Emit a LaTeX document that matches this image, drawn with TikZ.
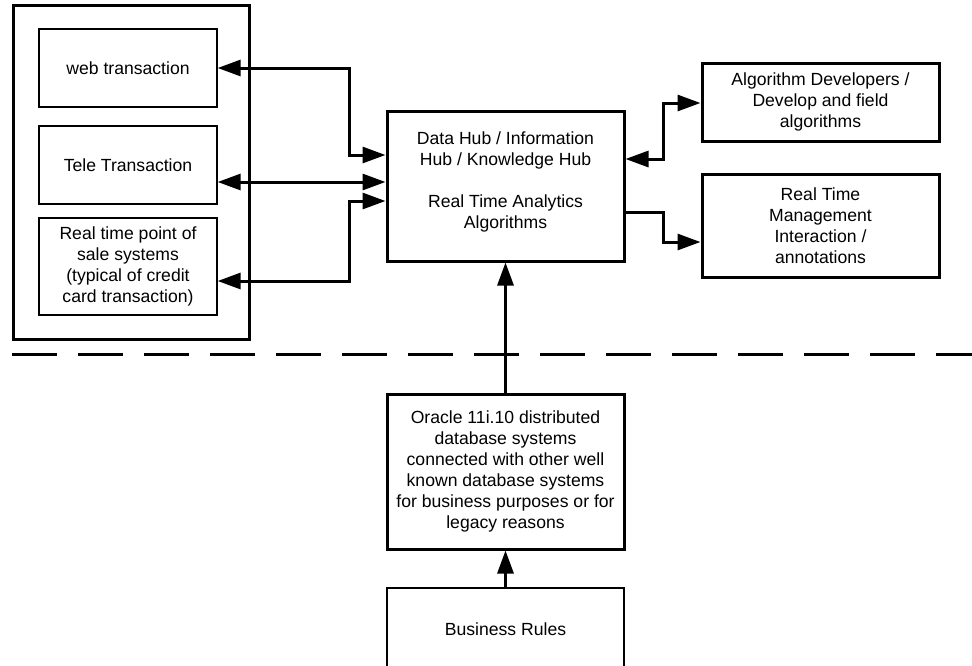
\documentclass[tikz,border=0pt]{standalone}
\usepackage{fontspec}
\setmainfont{Liberation Sans}
\usetikzlibrary{arrows.meta}
\begin{document}
\begin{tikzpicture}[x=1pt,y=-1pt,
  txt/.style={inner sep=0pt, align=center, font=\fontsize{17.6}{21}\selectfont},
  thinbox/.style={txt, draw, line width=1.3pt},
  thickbox/.style={txt, draw, line width=3pt},
  conn/.style={line width=3pt, line join=miter},
  onetip/.style={conn, -{Triangle[length=23pt,width=16pt]}},
  twotip/.style={conn, {Triangle[length=23pt,width=16pt]}-{Triangle[length=23pt,width=16pt]}}]
\useasboundingbox (0,0) rectangle (972,665);

% left group
\node[thickbox, minimum width=236pt, minimum height=334pt] (outer) at (131,172) {};
\node[thinbox, minimum width=178pt, minimum height=78pt] (web) at (128,68) {web transaction};
\node[thinbox, minimum width=178pt, minimum height=78pt] (tele) at (128,165) {Tele Transaction};
\node[thinbox, minimum width=178pt, minimum height=97pt] (pos) at (128,266.5)
  {Real time point of\\sale systems\\(typical of credit\\card transaction)};

% hub
\node[thickbox, minimum width=237pt, minimum height=150pt] (hub) at (505.5,186) {};
\node[txt] (hubtext) at (505.5,182)
  {Data Hub / Information\\Hub / Knowledge Hub\\[21pt]Real Time Analytics\\Algorithms};

% right boxes
\node[thickbox, minimum width=237pt, minimum height=78pt] (algo) at (820.5,102)
  {Algorithm Developers /\\Develop and field\\algorithms};
\node[thickbox, minimum width=237pt, minimum height=103pt] (rtm) at (820.5,225.5)
  {Real Time\\Management\\Interaction /\\annotations};

% bottom
\node[thickbox, minimum width=237pt, minimum height=155pt] (oracle) at (505.5,471.5)
  {Oracle 11i.10 distributed\\database systems\\connected with other well\\known database systems\\for business purposes or for\\legacy reasons};
\node[thinbox, minimum width=237pt, minimum height=86pt] (br) at (505.5,631)
  {\raisebox{4pt}{Business Rules}};

% helper coordinates
\coordinate (y155) at (0,155);
\coordinate (y182) at (0,182);
\coordinate (y201) at (0,201);
\coordinate (y281) at (0,281);
\coordinate (y159) at (0,159);
\coordinate (y212) at (0,212);
\coordinate (y103) at (0,103);
\coordinate (y242) at (0,242);
\coordinate (bendL1) at (349,68);
\coordinate (bendL3) at (349,281);
\coordinate (bendR1) at (663,159);
\coordinate (bendR2) at (663,212);

% connectors
\draw[twotip] (web.east) -- (bendL1) |- (hub.west |- y155);
\draw[twotip] (tele.east |- y182) -- (hub.west |- y182);
\draw[twotip] (pos.east |- y281) -- (bendL3) |- (hub.west |- y201);
\draw[twotip] (hub.east |- y159) -- (bendR1) |- (algo.west |- y103);
\draw[onetip] (hub.east |- y212) -- (bendR2) |- (rtm.west |- y242);
\draw[onetip] (oracle.north) -- (hub.south);
\draw[onetip] (br.north) -- (oracle.north |- oracle.south);

% dashed separator
\coordinate (dl) at (12,354);
\coordinate (dr) at (972,354);
\draw[line width=3pt, dash pattern=on 45pt off 21pt] (dl) -- (dr);
\end{tikzpicture}
\end{document}
